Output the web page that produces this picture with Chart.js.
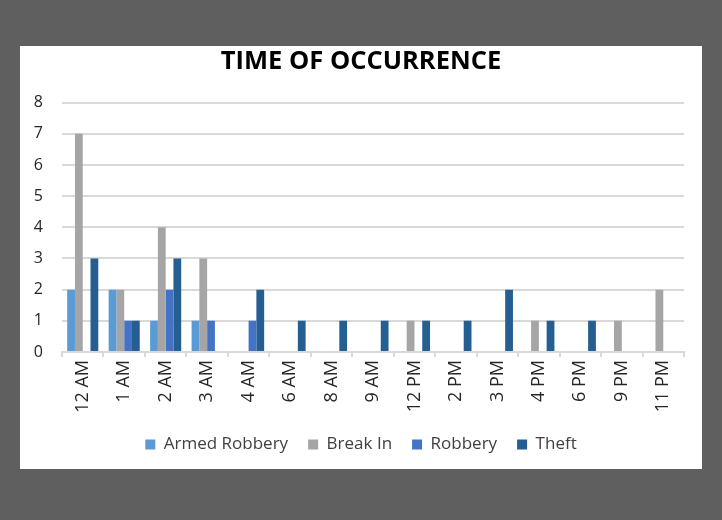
<!DOCTYPE html>
<html>
<head>
<meta charset="utf-8">
<script src="https://cdn.jsdelivr.net/npm/chart.js@4/dist/chart.umd.min.js"></script>
<style>
  html, body { margin: 0; padding: 0; }
  body { width: 722px; height: 520px; background: #5f5f5f; position: relative; overflow: hidden; }
  .panel { position: absolute; left: 20px; top: 46px; width: 682px; height: 423px; background: #fff; }
</style>
</head>
<body>
<div class="panel"><canvas id="myChart" width="682" height="423"></canvas></div>
<script>
"use strict";

// data
const hours = ['12 AM', '1 AM', '2 AM', '3 AM', '4 AM', '6 AM', '8 AM', '9 AM', '12 PM', '2 PM', '3 PM', '4 PM', '6 PM', '9 PM', '11 PM'];
const armedRobbery = [2, 2, 1, 1, 0, 0, 0, 0, 0, 0, 0, 0, 0, 0, 0];
const breakIn      = [7, 2, 4, 3, 0, 0, 0, 0, 1, 0, 0, 1, 0, 1, 2];
const robbery      = [0, 1, 2, 1, 1, 0, 0, 0, 0, 0, 0, 0, 0, 0, 0];
const theft        = [3, 1, 3, 0, 2, 1, 1, 1, 1, 1, 2, 1, 1, 0, 0];
const yTicks = [0, 1, 2, 3, 4, 5, 6, 7, 8];

const ctx = document.getElementById('myChart').getContext('2d');

new Chart(ctx, {
  type: 'bar',
  data: {
    labels: hours,
    datasets: [
      { label: 'Armed Robbery', data: armedRobbery, backgroundColor: '#5b9bd5' },
      { label: 'Break In', data: breakIn, backgroundColor: '#a5a5a5' },
      { label: 'Robbery', data: robbery, backgroundColor: '#4472c4' },
      { label: 'Theft', data: theft, backgroundColor: '#255e91' }
    ]
  },
  options: {
    responsive: false,
    animation: false,
    layout: { padding: { left: 0, right: 0, top: 0, bottom: 6 } },
    datasets: { bar: { categoryPercentage: 0.75, barPercentage: 1.0, borderWidth: 0 } },
    plugins: {
      title: {
        display: true,
        text: 'TIME OF OCCURRENCE',
        color: '#000',
        font: { family: 'Open Sans', size: 25.5, weight: 'bold' },
        padding: { top: 0, bottom: 26 }
      },
      legend: {
        position: 'bottom',
        labels: {
          boxWidth: 10, boxHeight: 10, padding: 20,
          color: '#404040',
          font: { family: 'Open Sans', size: 17 }
        }
      },
      tooltip: { enabled: false }
    },
    scales: {
      x: {
        afterFit: (axis) => { axis.height = 64; },
        grid: { drawOnChartArea: false, drawTicks: true, tickLength: 5, offset: true, color: '#d9d9d9', lineWidth: 2 },
        border: { display: true, color: '#d9d9d9', width: 2 },
        ticks: {
          maxRotation: 90, minRotation: 90,
          color: '#262626',
          font: { family: 'Open Sans', size: 18 }
        }
      },
      y: {
        min: 0, max: 8,
        afterBuildTicks: (axis) => { axis.ticks = yTicks.map(v => ({ value: v })); },
        afterFit: (axis) => { axis.width = 42; },
        grid: { color: '#d9d9d9', lineWidth: 2, drawTicks: false },
        border: { display: false },
        ticks: {
          padding: 19,
          color: '#262626',
          font: { family: 'Open Sans', size: 16 }
        }
      },
      // empty right axis, only keeps the right margin
      yRight: {
        position: 'right',
        min: 0, max: 8,
        afterFit: (axis) => { axis.width = 18; },
        grid: { display: false },
        border: { display: false },
        ticks: { display: false }
      }
    }
  }
});
</script>
</body>
</html>
